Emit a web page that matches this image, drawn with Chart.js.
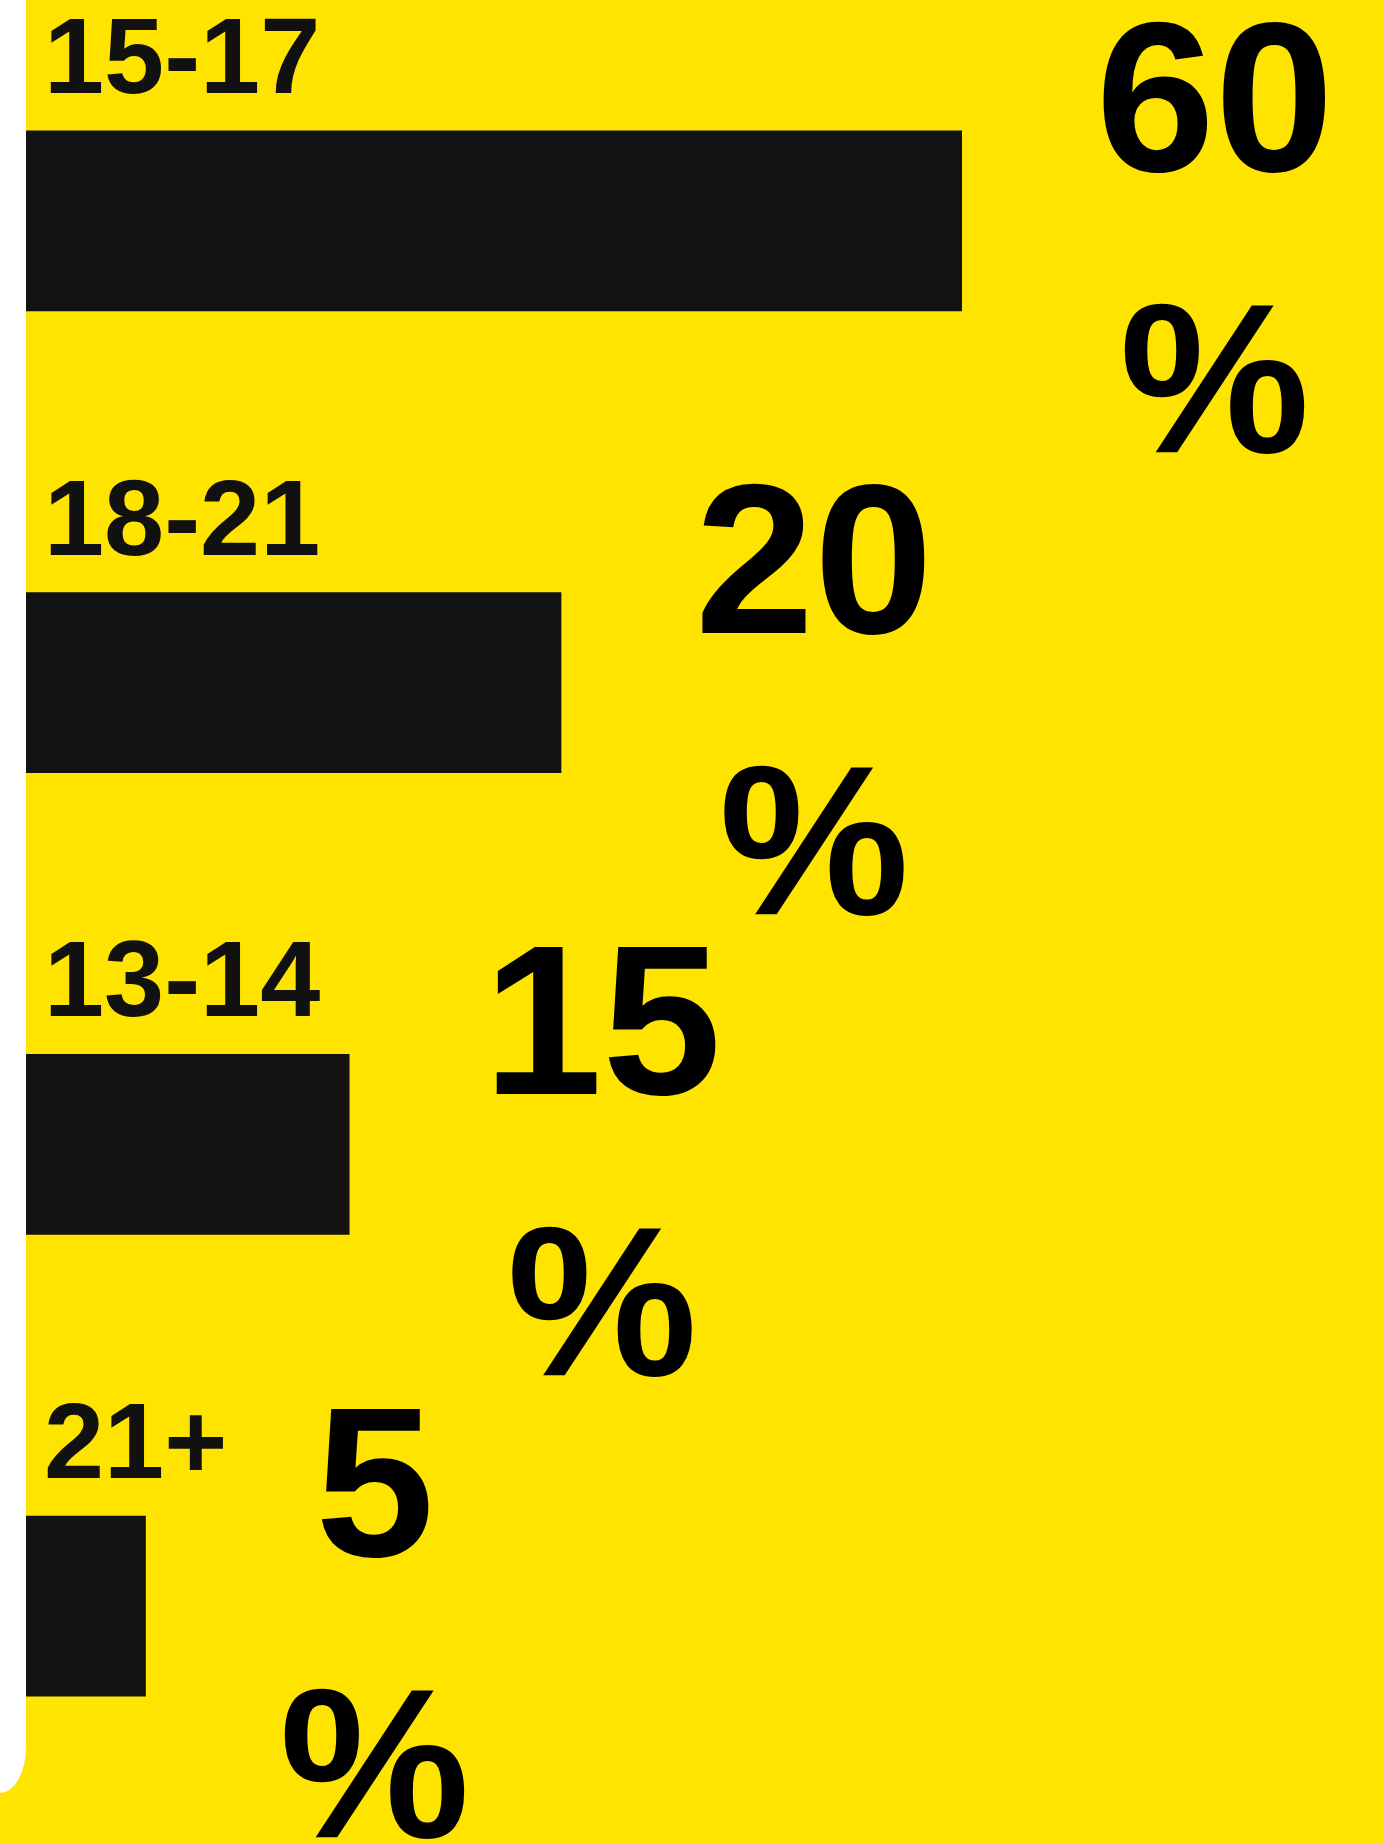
<!DOCTYPE html>
<html>
<head>
<meta charset="utf-8">
<script src="https://cdn.jsdelivr.net/npm/chart.js@4"></script>
<style>
    html, body {
        margin: 0;
        padding: 0;
        width: 1384px;
        height: 1843px;
        overflow: hidden;
        background: #FFE400;
    }
    .edge {
        position: absolute;
        left: 0;
        top: 0;
        width: 26px;
        height: 1793px;
        background: #fff;
        border-bottom-right-radius: 26px 46px;
    }
    #chart {
        position: absolute;
        left: 0;
        top: -10px;
    }
</style>
</head>
<body>
<div class="edge"></div>
<canvas id="chart" width="1384" height="1862"></canvas>
<script>
// age groups, top to bottom
const ageGroups = ['15-17', '18-21', '13-14', '21+'];
// share shown next to each bar (%)
const shares = [60, 20, 15, 5];
// bar lengths as drawn, in % of the plot width
const barLengths = [68.9, 39.4, 23.8, 8.8];

const labelFont = 'bold 108px "Liberation Sans", Arial, sans-serif';
const valueFont = 'bold 214px "Liberation Sans", Arial, sans-serif';

const barLabels = {
    id: 'barLabels',
    afterDatasetsDraw(chart) {
        const ctx = chart.ctx;
        const meta = chart.getDatasetMeta(0);
        ctx.save();
        ctx.textBaseline = 'alphabetic';
        meta.data.forEach((bar, i) => {
            const top = bar.y - bar.height / 2;

            // category above the bar
            ctx.font = labelFont;
            ctx.fillStyle = '#111';
            ctx.textAlign = 'left';
            ctx.fillText(chart.data.labels[i], chart.chartArea.left + 18, top - 38);

            // value, wrapped as "60" / "%"
            ctx.font = valueFont;
            ctx.fillStyle = '#000';
            ctx.textAlign = 'center';
            const lines = [String(shares[i]), '%'];
            const w = Math.max(...lines.map(t => ctx.measureText(t).width));
            const cx = bar.x + 134 + w / 2;
            ctx.fillText(lines[0], cx, bar.y - 50);
            ctx.fillText(lines[1], cx, bar.y + 231);
        });
        ctx.restore();
    }
};

new Chart(document.getElementById('chart').getContext('2d'), {
    type: 'bar',
    plugins: [barLabels],
    data: {
        labels: ageGroups,
        datasets: [{
            data: barLengths,
            backgroundColor: '#121212',
            borderWidth: 0,
            barThickness: 180
        }]
    },
    options: {
        indexAxis: 'y',
        responsive: false,
        animation: false,
        devicePixelRatio: 1,
        layout: {
            padding: { left: 26, right: 0, top: 0, bottom: 15 }
        },
        plugins: {
            legend: { display: false },
            tooltip: { enabled: false }
        },
        scales: {
            x: {
                display: false,
                min: 0,
                max: 100
            },
            y: {
                display: false
            }
        }
    }
});
</script>
</body>
</html>
